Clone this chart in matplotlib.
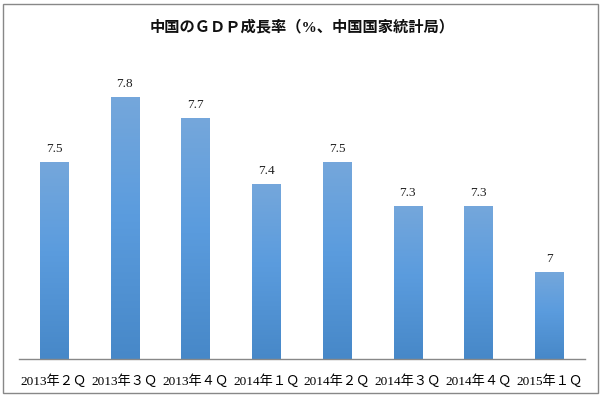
import numpy as np
import matplotlib
matplotlib.use("Agg")
import matplotlib.pyplot as plt
from matplotlib.colors import LinearSegmentedColormap
from matplotlib.patches import Rectangle

# data
quarters = ["2013年２Ｑ", "2013年３Ｑ", "2013年４Ｑ", "2014年１Ｑ",
            "2014年２Ｑ", "2014年３Ｑ", "2014年４Ｑ", "2015年１Ｑ"]
growth = [7.5, 7.8, 7.7, 7.4, 7.5, 7.3, 7.3, 7.0]
value_labels = ["7.5", "7.8", "7.7", "7.4", "7.5", "7.3", "7.3", "7"]
title = "中国のＧＤＰ成長率（%、中国国家統計局）"

FONTS = ["Liberation Serif", "Noto Sans CJK JP", "DejaVu Sans"]
plt.rcParams["font.family"] = FONTS

Y_MIN = 6.6
PX_PER_UNIT = 218.75
W, H = 604, 397

fig = plt.figure(figsize=(W / 100, H / 100), dpi=100)
ax_left, ax_right = 18.6 / W, 584.6 / W
ax_bottom, ax_top = 1 - 359 / H, 1 - 60 / H
ax = fig.add_axes([ax_left, ax_bottom, ax_right - ax_left, ax_top - ax_bottom])
y_max = Y_MIN + (359 - 60) / PX_PER_UNIT

grad_cmap = LinearSegmentedColormap.from_list(
    "bar_grad", [(0.0, "#4788C8"), (0.55, "#5B9CDE"), (1.0, "#75A7DB")])
grad = np.linspace(0, 1, 256).reshape(-1, 1)

x = np.arange(len(quarters))
width = 0.4
bars = ax.bar(x, [g - Y_MIN for g in growth], width, bottom=Y_MIN,
              color="none", edgecolor="none")
for bar, lab in zip(bars, value_labels):
    x0 = bar.get_x()
    top = bar.get_y() + bar.get_height()
    im = ax.imshow(grad, cmap=grad_cmap, origin="lower", aspect="auto",
                   extent=[x0, x0 + bar.get_width(), Y_MIN, top], zorder=2)
    im.set_clip_path(bar)
    ax.annotate(lab, (x0 + bar.get_width() / 2, top), xytext=(0, 5),
                textcoords="offset points", ha="center", va="bottom",
                fontsize=9.5, color="#222222")

ax.set_xlim(-0.5, len(quarters) - 0.5)
ax.set_ylim(Y_MIN, y_max)
ax.set_xticks(x)
ax.set_xticklabels(quarters, fontsize=9.5)
ax.tick_params(axis="x", length=0, pad=11)
ax.set_yticks([])
for side in ["left", "right", "top"]:
    ax.spines[side].set_visible(False)
ax.spines["bottom"].set_color("#888888")
ax.spines["bottom"].set_linewidth(1.0)

fig.text(0.5, 1 - 27 / H, title, ha="center", va="center",
         fontsize=11, fontweight="bold", color="#111111")

# outer frame of the chart area
fig.patches.append(Rectangle((3 / W, 1 - 393 / H), 595 / W, 389 / H,
                             transform=fig.transFigure, fill=False,
                             edgecolor="#888888", linewidth=1.0))

fig.savefig("out.png", dpi=100)
